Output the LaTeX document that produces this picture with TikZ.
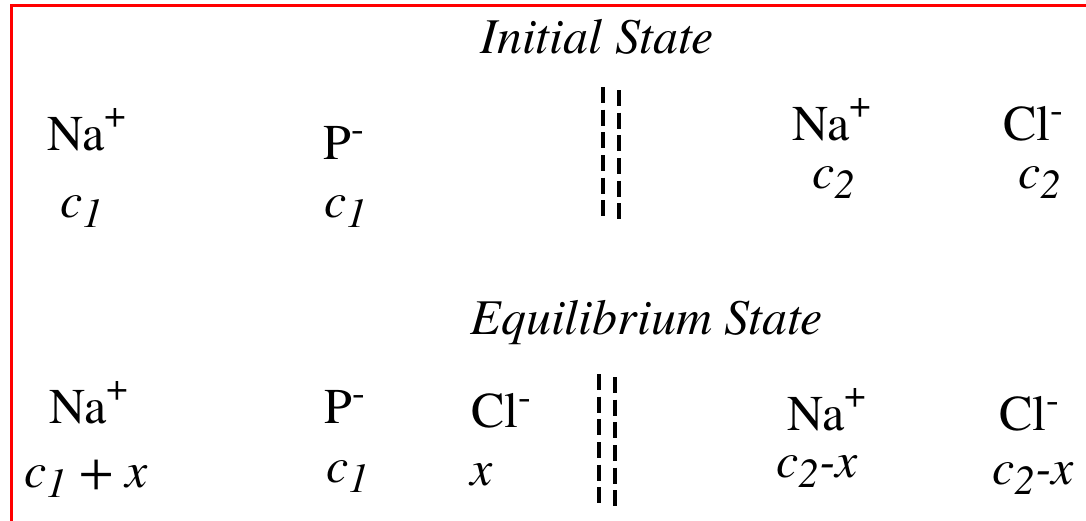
\documentclass[tikz,border=0pt]{standalone}
\usepackage{fontspec}
\setmainfont{texgyretermes}[Extension=.otf,UprightFont=*-regular,ItalicFont=*-italic,BoldFont=*-bold]
\newcommand\bigtxt{\fontsize{37.5}{40}\selectfont}
\newcommand\supP{\raisebox{17pt}{\fontsize{29}{29}\selectfont +}}
\newcommand\supM{\raisebox{13pt}{\fontsize{29}{29}\selectfont -}}
\newcommand\subN[1]{\raisebox{-8pt}{\fontsize{31}{31}\selectfont\itshape #1}}
\begin{document}
\begin{tikzpicture}[x=0.75pt,y=-0.75pt,
  lbl/.style={anchor=base west,inner sep=0pt,font=\bigtxt},
  conc/.style={anchor=base west,inner sep=0pt,font=\bigtxt\itshape},
  ttl/.style={anchor=base,inner sep=0pt,font=\bigtxt\itshape},
  membrane/.style={line width=3.4pt,dash pattern=on 12pt off 5pt}]
\useasboundingbox (0,0) rectangle (1086,521);
% red frame (cut at right and bottom)
\coordinate (fbl) at (11.5,521);
\coordinate (ftl) at (11.5,5.5);
\coordinate (ftr) at (1086,5.5);
\draw[red,line width=1.6pt] (fbl) -- (ftl) -- (ftr);
% titles
\node[ttl] (t1) at (597,53) {Initial State};
\node[ttl] (t2) at (647,334) {Equilibrium State};
% initial state
\node[lbl] (na1) at (47,150) {Na\supP};
\node[lbl] (p1)  at (323,159) {P\supM};
\node[lbl] (na2) at (792,140) {Na\supP};
\node[lbl] (cl1) at (1003,140) {Cl\supM};
\node[conc] (c1a) at (60,217) {c\subN{1}};
\node[conc] (c1b) at (324,217) {c\subN{1}};
\node[conc] (c2a) at (812,188) {c\subN{2}};
\node[conc] (c2b) at (1018,188) {c\subN{2}};
% equilibrium state
\node[lbl] (na3) at (49,423) {Na\supP};
\node[lbl] (p2)  at (324,423) {P\supM};
\node[lbl] (cl2) at (471,427) {Cl\supM};
\node[lbl] (na4) at (787,430) {Na\supP};
\node[lbl] (cl3) at (999,430) {Cl\supM};
\node[conc] (e1) at (24,487) {c\subN{1} + x};
\node[conc] (e2) at (326,482) {c\subN{1}};
\node[conc] (e3) at (470,485) {x};
\node[conc] (e4) at (776,477) {c\subN{2}-x};
\node[conc] (e5) at (992,484) {c\subN{2}-x};
% membranes
\coordinate (m1a) at (603,87);  \coordinate (m1b) at (603,217);
\coordinate (m1c) at (619,90);  \coordinate (m1d) at (619,221);
\coordinate (m2a) at (599,374); \coordinate (m2b) at (599,505);
\coordinate (m2c) at (615,377); \coordinate (m2d) at (615,508);
\draw[membrane] (m1a) -- (m1b);
\draw[membrane] (m1c) -- (m1d);
\draw[membrane] (m2a) -- (m2b);
\draw[membrane] (m2c) -- (m2d);
\end{tikzpicture}
\end{document}
